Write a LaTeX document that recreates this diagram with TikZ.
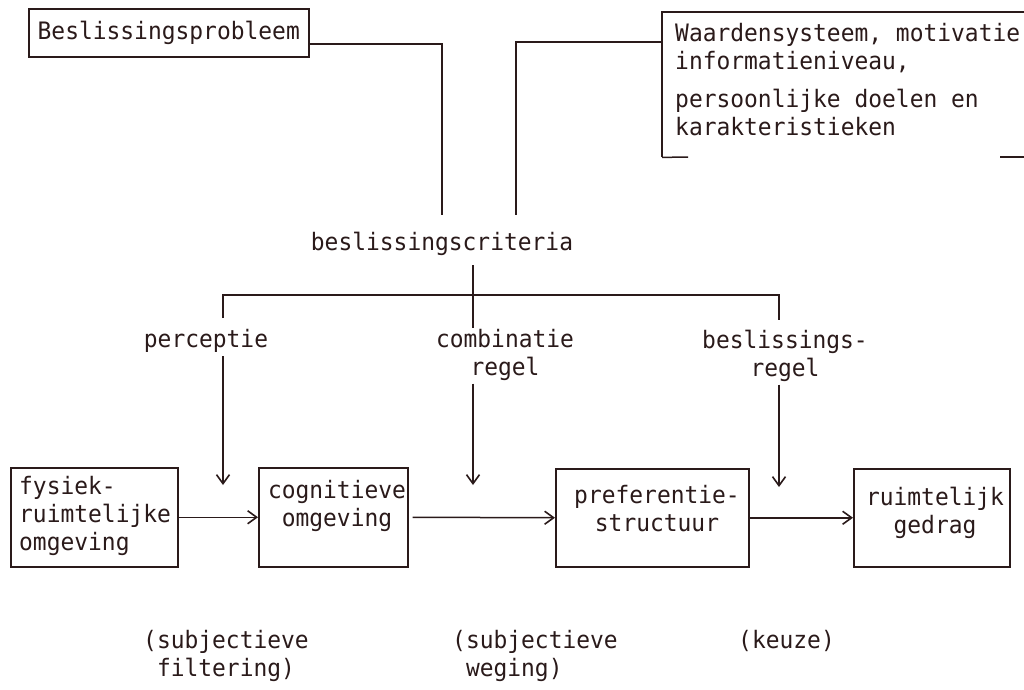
\documentclass[tikz,border=0pt]{standalone}
\usepackage{fontspec}
\newfontfamily\tw[FakeStretch=0.955]{DejaVu Sans Mono}
\usetikzlibrary{arrows.meta}
\definecolor{ink}{RGB}{42,26,26}
\begin{document}
\begin{tikzpicture}[x=1pt,y=-1pt,
  every node/.style={font=\tw\fontsize{24}{28}\selectfont, text=ink, inner sep=0pt},
  ln/.style={draw=ink, line width=1.5pt},
  arr/.style={ln, -{Straight Barb[length=9pt,width=13pt,line width=1.6pt]}},
  boxst/.style={draw=ink, line width=1.5pt, rectangle, anchor=north west},
  ctxt/.style={align=center, anchor=north},
  ltxt/.style={align=left, anchor=north west},
]
\useasboundingbox (0,0) rectangle (1024,689);
\clip (0,0) rectangle (1024,689);
\fill[white] (0,0) rectangle (1024,689);

% top boxes
\node[boxst, minimum width=280pt, minimum height=48pt] (prob) at (28,8) {Beslissingsprobleem};
\node[anchor=north west, minimum width=420pt, minimum height=145pt] (waard) at (662,12) {};
\draw[ln] (waard.south west) -- (waard.north west) -- (waard.north east);
\coordinate (wb1) at (688,157);
\coordinate (wb2) at (1000,157);
\coordinate (wb3) at (1024,157);
\draw[ln] (waard.south west) -- (wb1);
\draw[ln] (wb2) -- (wb3);
\node[ltxt] (waardtxt) at (675,21.4) {\strut Waardensysteem, motivatie,\\informatieniveau,\\[10pt]persoonlijke doelen en\\karakteristieken};

% criteria
\node[anchor=base] (crit) at (442,250) {beslissingscriteria};
\coordinate (c1) at (442,215);
\coordinate (c2) at (516,215);
\draw[ln] ([yshift=-11pt]prob.east) -| (c1);
\draw[ln] ([yshift=-30pt]waard.north west) -| (c2);

% bracket
\coordinate (jb) at (473,328);
\coordinate (bl) at (223,295);
\coordinate (br) at (779,295);
\coordinate (tl) at (223,318);
\coordinate (tr) at (779,320);
\draw[ln] ([yshift=-10pt]crit.south -| jb) -- (jb);
\draw[ln] (tl) -- (bl) -- (br) -- (tr);

% rule labels
\node[anchor=base] (perc) at (206,347) {perceptie};
\node[ctxt] (comb) at (505,327.4) {\strut combinatie\\regel};
\node[ctxt] (besl) at (785,328.4) {\strut beslissings-\\regel};

\coordinate (a1e) at (223,485);
\coordinate (a2e) at (473,485);
\coordinate (a3e) at (779,487);
\draw[arr] ([yshift=-4pt]perc.south -| a1e) -- (a1e);
\draw[arr] ([yshift=-3pt]comb.south -| a2e) -- (a2e);
\draw[arr] ([yshift=-3pt]besl.south -| a3e) -- (a3e);

% process boxes
\node[boxst, minimum width=167pt, minimum height=99pt] (fys) at (10,467) {};
\node[boxst, minimum width=149pt, minimum height=99pt] (cog) at (258,467) {};
\node[boxst, minimum width=193pt, minimum height=98pt] (pref) at (555,468) {};
\node[boxst, minimum width=156pt, minimum height=98pt] (ruim) at (853,468) {};

\node[ltxt] (fyst) at (19,474.4) {\strut fysiek-\\ruimtelijke\\omgeving};
\node[ctxt] (cogt) at (337,478.4) {\strut cognitieve\\omgeving};
\node[ctxt] (preft) at (657,483.4) {\strut preferentie-\\structuur};
\node[ctxt] (ruimt) at (935,485.4) {\strut ruimtelijk\\gedrag};

\draw[arr] (fys.east) -- (cog.west);
\draw[arr] ([xshift=4pt]cog.east) -- (pref.west);
\draw[arr] (pref.east) -- (ruim.west);

% bottom notes
\node[ltxt] (sub1) at (143,628.4) {\strut(subjectieve\\\hphantom{(}filtering)};
\node[ltxt] (sub2) at (452,628.4) {\strut(subjectieve\\\hphantom{(}weging)};
\node[anchor=base west] (keuze) at (738,648) {(keuze)};
\end{tikzpicture}
\end{document}
